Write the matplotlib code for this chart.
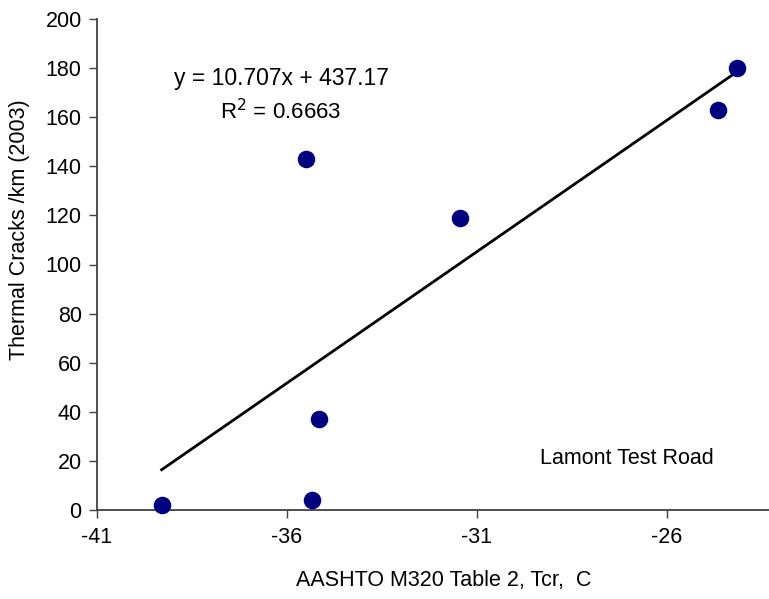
import matplotlib
matplotlib.use("Agg")
import matplotlib.pyplot as plt
import numpy as np

plt.rcParams['font.family'] = ['Liberation Sans', 'DejaVu Sans']
plt.rcParams['axes.unicode_minus'] = False

# Lamont Test Road data
tcr = [-39.3, -35.5, -35.35, -35.15, -31.45, -24.65, -24.15]
cracks = [2, 143, 4, 37, 119, 163, 180]

slope, intercept = 10.707, 437.17
xticks = [-41, -36, -31, -26]
yticks = [0, 20, 40, 60, 80, 100, 120, 140, 160, 180, 200]

W, H = 769, 599
fig = plt.figure(figsize=(W / 100, H / 100), dpi=100)
ax = fig.add_axes([97 / W, 1 - 510 / H, 672 / W, 491 / H])

ax.scatter(tcr, cracks, s=135, color="#000080", zorder=3, clip_on=False)

# linear trendline over the data range
xs = np.array([min(tcr), max(tcr)])
ax.plot(xs, slope * xs + intercept, color="black", lw=2, zorder=2)

ax.set_xlim(-41, -41 + 672 / 38)
ax.set_ylim(0, 200)
ax.set_xticks(xticks)
ax.set_yticks(yticks)

for side in ["top", "right"]:
    ax.spines[side].set_visible(False)
for side in ["left", "bottom"]:
    ax.spines[side].set_color("#404040")
    ax.spines[side].set_linewidth(1.3)

ax.tick_params(axis="both", direction="out", length=6, width=1, color="#404040",
               labelsize=15.5, pad=5)
ax.tick_params(axis="x", pad=6)

ax.set_xlabel("AASHTO M320 Table 2, Tcr,  C", fontsize=15.5)
ax.xaxis.set_label_coords((444 - 97) / 672, (510 - 570) / 491)
ax.set_ylabel("Thermal Cracks /km (2003)", fontsize=15.5)
ax.yaxis.set_label_coords((30 - 97) / 672, (510 - 230) / 491)

ax.text((281 - 97) / 672, (510 - 79) / 491, "y = 10.707x + 437.17",
        transform=ax.transAxes, ha="center", va="center", fontsize=16.5)
ax.text((281 - 97) / 672, (510 - 112) / 491, "R$^2$ = 0.6663",
        transform=ax.transAxes, ha="center", va="center", fontsize=16)
ax.text((627 - 97) / 672, (510 - 458) / 491, "Lamont Test Road",
        transform=ax.transAxes, ha="center", va="center", fontsize=15.5)

fig.savefig("out.png", dpi=100)
